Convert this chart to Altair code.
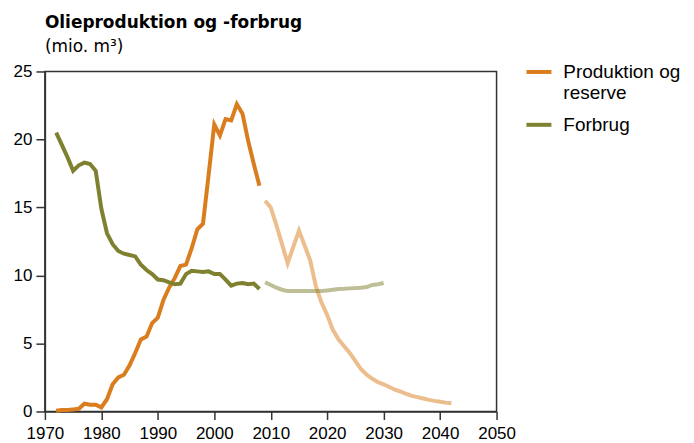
import altair as alt
import pandas as pd

# ---- data ----
hist_years = list(range(1972, 2009))
production = [0.05, 0.1, 0.1, 0.15, 0.2, 0.57, 0.5, 0.5, 0.3, 0.9,
              2.0, 2.5, 2.7, 3.4, 4.3, 5.3, 5.5, 6.5, 6.9, 8.2,
              9.1, 9.8, 10.7, 10.8, 12.0, 13.4, 13.8, 17.4, 21.1, 20.3,
              21.5, 21.4, 22.6, 21.9, 19.9, 18.2, 16.6]
consumption = [20.5, 19.6, 18.7, 17.7, 18.1, 18.3, 18.2, 17.7, 14.9, 13.1,
               12.3, 11.8, 11.6, 11.5, 11.4, 10.8, 10.4, 10.1, 9.7, 9.65,
               9.5, 9.35, 9.4, 10.1, 10.35, 10.3, 10.25, 10.3, 10.1, 10.1,
               9.7, 9.25, 9.4, 9.45, 9.35, 9.4, 9.0]

reserve_years = list(range(2009, 2043))
reserve = [15.5, 15.0, 13.7, 12.3, 10.9, 12.1, 13.3, 12.2, 11.1, 9.2,
           8.0, 7.1, 6.0, 5.3, 4.8, 4.3, 3.7, 3.1, 2.7, 2.4,
           2.15, 2.0, 1.8, 1.6, 1.45, 1.3, 1.15, 1.05, 0.95, 0.85,
           0.78, 0.72, 0.65, 0.6]

fc_cons_years = list(range(2009, 2031))
fc_consumption = [9.5, 9.3, 9.1, 8.95, 8.85, 8.85, 8.85, 8.85, 8.85, 8.85,
                  8.85, 8.9, 8.95, 9.0, 9.02, 9.05, 9.07, 9.1, 9.15, 9.3,
                  9.35, 9.45]

series_names = ["Produktion og|reserve", "Forbrug"]
series_colors = ["#D97D1E", "#7F8030"]
x_ticks = list(range(1970, 2051, 10))
y_ticks = [0, 5, 10, 15, 20, 25]

rows = []
for y, v in zip(hist_years, production):
    rows.append({"year": y, "value": v, "series": series_names[0], "kind": "hist", "order": 1})
for y, v in zip(reserve_years, reserve):
    rows.append({"year": y, "value": v, "series": series_names[0], "kind": "forecast", "order": 3})
for y, v in zip(hist_years, consumption):
    rows.append({"year": y, "value": v, "series": series_names[1], "kind": "hist", "order": 0})
for y, v in zip(fc_cons_years, fc_consumption):
    rows.append({"year": y, "value": v, "series": series_names[1], "kind": "forecast", "order": 2})
df = pd.DataFrame(rows)

FONT = "Liberation Sans"
TFONT = "DejaVu Sans"

chart = alt.Chart(df).mark_line(strokeWidth=4, strokeCap="butt", strokeJoin="miter").encode(
    x=alt.X("year:Q",
            scale=alt.Scale(domain=[1970, 2050], nice=False, zero=False),
            axis=alt.Axis(values=x_ticks, format="d", title=None, grid=False,
                          tickSize=8, labelPadding=6, labelFontSize=17,
                          labelOverlap=False, labelFlush=False,
                          labelFont=FONT, labelColor="#000",
                          domainColor="#333", tickColor="#333",
                          domainWidth=1.5, tickWidth=1.5)),
    y=alt.Y("value:Q",
            scale=alt.Scale(domain=[0, 25], nice=False),
            axis=alt.Axis(values=y_ticks, title=None, grid=False,
                          tickSize=9, labelPadding=4, labelFontSize=17,
                          labelFont=FONT, labelColor="#000",
                          domainColor="#333", tickColor="#333",
                          domainWidth=1.5, tickWidth=1.5)),
    color=alt.Color("series:N",
                    scale=alt.Scale(domain=series_names, range=series_colors),
                    legend=alt.Legend(title=None, orient="none",
                                      legendX=481, legendY=-14,
                                      symbolType="stroke", symbolSize=625,
                                      symbolStrokeWidth=4, symbolOpacity=1,
                                      labelFontSize=19, labelFont=FONT,
                                      labelColor="#000", labelLimit=300,
                                      labelExpr="split(datum.label, '|')",
                                      rowPadding=7, labelOffset=10)),
    opacity=alt.Opacity("kind:N",
                        scale=alt.Scale(domain=["hist", "forecast"], range=[1, 0.5]),
                        legend=None),
    detail="kind:N",
    order=alt.Order("order:Q"),
).properties(
    width=453,
    height=341,
    title=alt.TitleParams(
        text="Olieproduktion og -forbrug",
        subtitle="(mio. m³)",
        anchor="start",
        frame="group",
        font=TFONT,
        fontSize=17,
        fontWeight="bold",
        color="#000",
        subtitleFont=TFONT,
        subtitleFontSize=17,
        subtitleColor="#000",
        subtitlePadding=7,
        offset=2,
    ),
).configure_view(
    stroke="#333", strokeWidth=1.5
)

chart.save("out.html", embed_options={"renderer": "svg", "actions": False})
